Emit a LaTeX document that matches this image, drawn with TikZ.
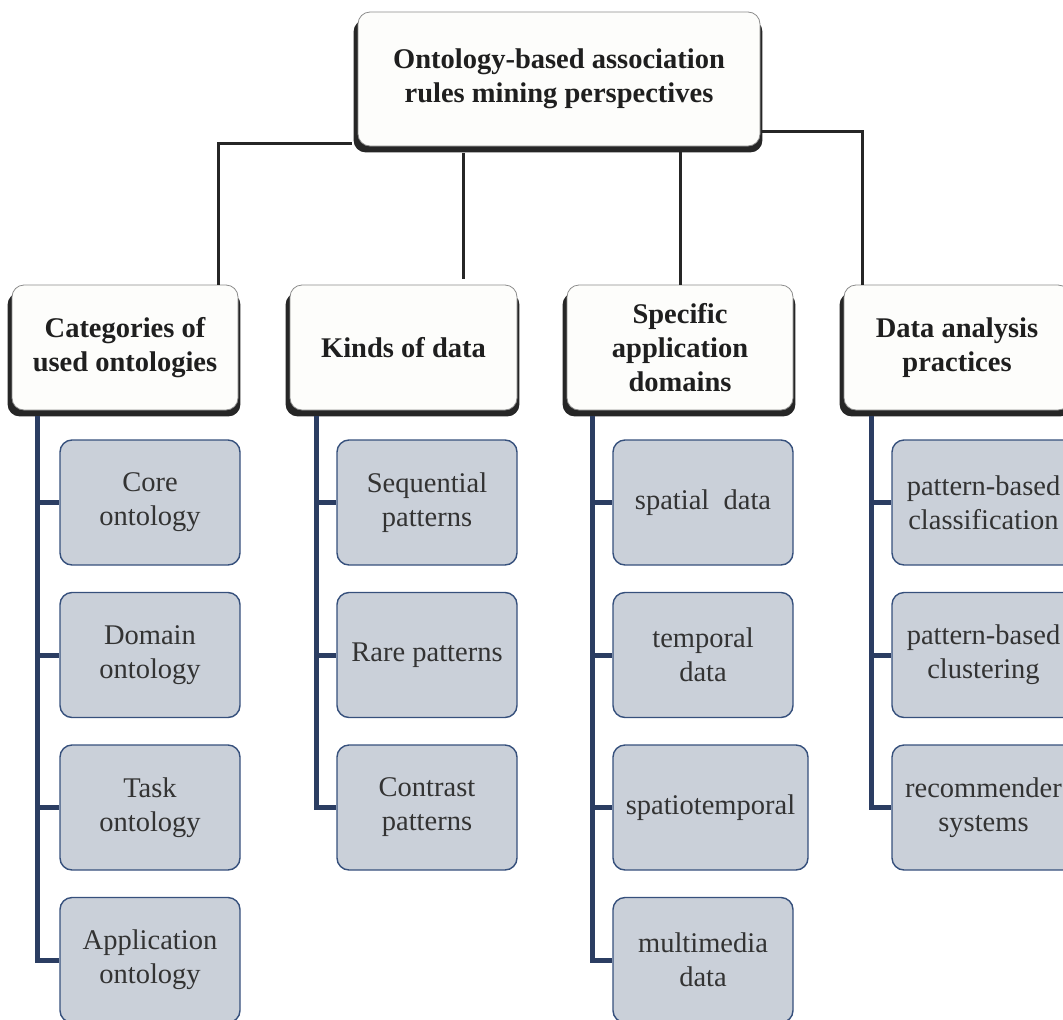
\documentclass[tikz,border=0pt]{standalone}
\usepackage{fontspec}
\setmainfont{Liberation Serif}
\usetikzlibrary{calc,backgrounds}
\definecolor{leaffill}{HTML}{CAD0D9}
\definecolor{leafborder}{HTML}{36507C}
\definecolor{spinecol}{HTML}{2B3D62}
\definecolor{headfill}{HTML}{FDFDFB}
\begin{document}
\begin{tikzpicture}[x=1pt,y=-1pt,
  headbox/.style={draw=black!45, line width=0.8pt, fill=headfill,
    rounded corners=12pt, minimum height=125pt, minimum width=226pt,
    inner sep=0pt, align=center, text=black!88,
    font=\fontsize{28.5}{34}\selectfont\bfseries},
  headshadow/.style={fill=black!85, rounded corners=12pt},
  leafbox/.style={draw=leafborder, line width=1.4pt, fill=leaffill,
    rounded corners=12pt, minimum height=125pt, minimum width=180pt,
    inner sep=0pt, align=center, text=black!80,
    font=\fontsize{28.5}{34}\selectfont},
  link/.style={draw=black!85, line width=3pt},
  spine/.style={draw=spinecol, line width=5pt}]
\useasboundingbox (0,0) rectangle (1063,1020);
\clip (0,0) rectangle (1063,1020);

% root
\node[headbox, minimum width=402pt, minimum height=134pt]
  (root) at (559,79) {Ontology-based association\\rules mining perspectives};

% perspectives
\node[headbox] (cat1) at (125,347.5) {Categories of\\used ontologies};
\node[headbox, minimum width=227pt] (cat2) at (403.5,347.5) {Kinds of data};
\node[headbox] (cat3) at (680,347.5) {Specific\\application\\domains};
\node[headbox] (cat4) at (957,347.5) {Data analysis\\practices};

% heavy shadows under the headings
\begin{scope}[on background layer]
  \foreach \n in {root,cat1,cat2,cat3,cat4}
    \fill[headshadow] ($(\n.north west)+(-4,8)$) rectangle ($(\n.south east)+(2,6)$);
\end{scope}

% connectors from the root
\draw[link] ($(root.south west)+(-6,-3)$) -| ($(cat1.north east)+(-20,0)$);
\draw[link] ($(root.south west)+(106,7)$) -- ($(cat2.north west)+(174,-6)$);
\draw[link] ($(root.south -| cat3.north)+(0,6)$) -- (cat3.north);
\draw[link] ($(root.north east)+(2,120)$) -| ($(cat4.north west)+(19,0)$);

% spine anchors
\coordinate (s1) at ($(cat1.south west)+(26,6)$);
\coordinate (s2) at ($(cat2.south west)+(27,6)$);
\coordinate (s3) at ($(cat3.south west)+(26,6)$);
\coordinate (s4) at ($(cat4.south west)+(28,6)$);

% leaves
\node[leafbox] (a1) at (150,502.5) {Core\\ontology};
\node[leafbox] (a2) at (150,655) {Domain\\ontology};
\node[leafbox] (a3) at (150,807.5) {Task\\ontology};
\node[leafbox] (a4) at (150,960) {Application\\ontology};

\node[leafbox] (b1) at (427,502.5) {Sequential\\patterns};
\node[leafbox] (b2) at (427,655) {Rare patterns};
\node[leafbox] (b3) at (427,807.5) {Contrast\\patterns};

\node[leafbox] (c1) at (703,502.5) {spatial\ \ data};
\node[leafbox] (c2) at (703,655) {temporal\\data};
\node[leafbox, minimum width=195pt] (c3) at (710.5,807.5) {spatiotemporal};
\node[leafbox] (c4) at (703,960) {multimedia\\data};

\node[leafbox, minimum width=183pt] (d1) at (983.5,502.5) {pattern-based\\classification};
\node[leafbox, minimum width=183pt] (d2) at (983.5,655) {pattern-based\\clustering};
\node[leafbox, minimum width=183pt] (d3) at (983.5,807.5) {recommender\\systems};

\foreach \n in {a1,a2,a3,a4} \draw[spine] (s1) |- (\n.west);
\foreach \n in {b1,b2,b3} \draw[spine] (s2) |- (\n.west);
\foreach \n in {c1,c2,c3,c4} \draw[spine] (s3) |- (\n.west);
\foreach \n in {d1,d2,d3} \draw[spine] (s4) |- (\n.west);
\end{tikzpicture}
\end{document}
